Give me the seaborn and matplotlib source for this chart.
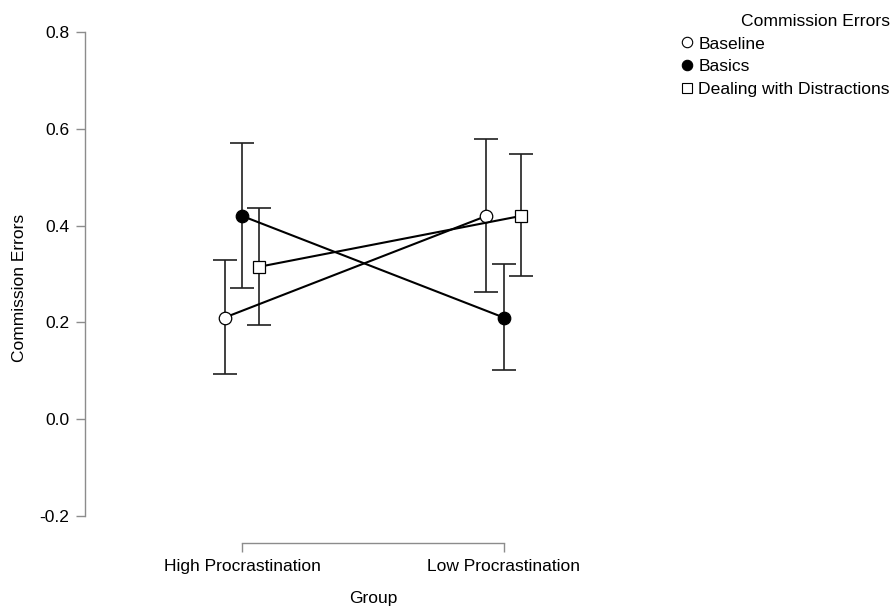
import matplotlib
matplotlib.use("Agg")
import matplotlib.pyplot as plt
from matplotlib.lines import Line2D
import seaborn as sns
import pandas as pd
import numpy as np

# Group means and 95% CI bounds of commission errors per training condition
groups = ["High Procrastination", "Low Procrastination"]
conditions = ["Baseline", "Basics", "Dealing with Distractions"]
baseline_mean = [0.21, 0.42]
baseline_lower = [0.094, 0.263]
baseline_upper = [0.328, 0.579]
basics_mean = [0.42, 0.21]
basics_lower = [0.271, 0.101]
basics_upper = [0.571, 0.320]
distract_mean = [0.315, 0.42]
distract_lower = [0.195, 0.295]
distract_upper = [0.437, 0.548]

means = [baseline_mean, basics_mean, distract_mean]
lowers = [baseline_lower, basics_lower, distract_lower]
uppers = [baseline_upper, basics_upper, distract_upper]

markers = {"Baseline": "o", "Basics": "o", "Dealing with Distractions": "s"}
faces = {"Baseline": "white", "Basics": "black", "Dealing with Distractions": "white"}
sizes = {"Baseline": 9, "Basics": 9, "Dealing with Distractions": 8}
offsets = {"Baseline": -0.067, "Basics": 0.0, "Dealing with Distractions": 0.065}

sns.set_theme(style="ticks")
plt.rcParams["font.family"] = ["Liberation Sans", "DejaVu Sans"]
plt.rcParams["text.color"] = "black"
plt.rcParams["axes.labelcolor"] = "black"

fig = plt.figure(figsize=(8.91, 6.06), dpi=100)
ax = fig.add_axes([85 / 891, 1 - 543 / 606, (661 - 85) / 891, (543 - 32) / 606])

for cond, m, lo, hi in zip(conditions, means, lowers, uppers):
    xs = np.arange(len(groups)) + offsets[cond]
    df = pd.DataFrame({"x": xs, "y": m})
    m_arr = np.array(m)
    yerr = np.vstack([m_arr - np.array(lo), np.array(hi) - m_arr])
    ax.errorbar(xs, m_arr, yerr=yerr, fmt="none", ecolor="#202020",
                elinewidth=1.2, capsize=8.5, capthick=1.2, zorder=2)
    sns.lineplot(data=df, x="x", y="y", ax=ax, color="black", linewidth=1.5,
                 marker=markers[cond], markersize=sizes[cond],
                 markerfacecolor=faces[cond], markeredgecolor="black",
                 markeredgewidth=0.9, zorder=3, legend=False)

ax.set_xlim(-0.6, 1.6)
ax.set_ylim(-0.2556, 0.8)
ax.set_xticks(range(len(groups)))
ax.set_xticklabels(groups)
ax.set_yticks([-0.2, 0.0, 0.2, 0.4, 0.6, 0.8])
ax.set_yticklabels(["-0.2", "0.0", "0.2", "0.4", "0.6", "0.8"])

for side in ["top", "right"]:
    ax.spines[side].set_visible(False)
ax.spines["left"].set_bounds(-0.2, 0.8)
ax.spines["bottom"].set_bounds(0, 1)
for side in ["left", "bottom"]:
    ax.spines[side].set_color("#8c8c8c")
    ax.spines[side].set_linewidth(1.0)
ax.tick_params(axis="both", direction="out", length=6.5, width=1.0,
               color="#8c8c8c", labelsize=12.5, labelcolor="black", pad=5)

ax.set_xlabel("Group", fontsize=12.5, labelpad=12)
ax.set_ylabel("Commission Errors", fontsize=12.5, labelpad=9)

handles = [Line2D([], [], linestyle="none", marker=markers[c], markersize=7.5,
                  markerfacecolor=faces[c], markeredgecolor="black",
                  markeredgewidth=0.8) for c in conditions]
fig.legend(handles, conditions, title="Commission Errors", loc="upper right",
           bbox_to_anchor=(897 / 891, 1 - 7 / 606), frameon=False, fontsize=12.6,
           title_fontsize=12.6, handlelength=0.8, handletextpad=0.25,
           labelspacing=0.42, alignment="right", borderaxespad=0.0)

fig.savefig("out.png", dpi=100)
